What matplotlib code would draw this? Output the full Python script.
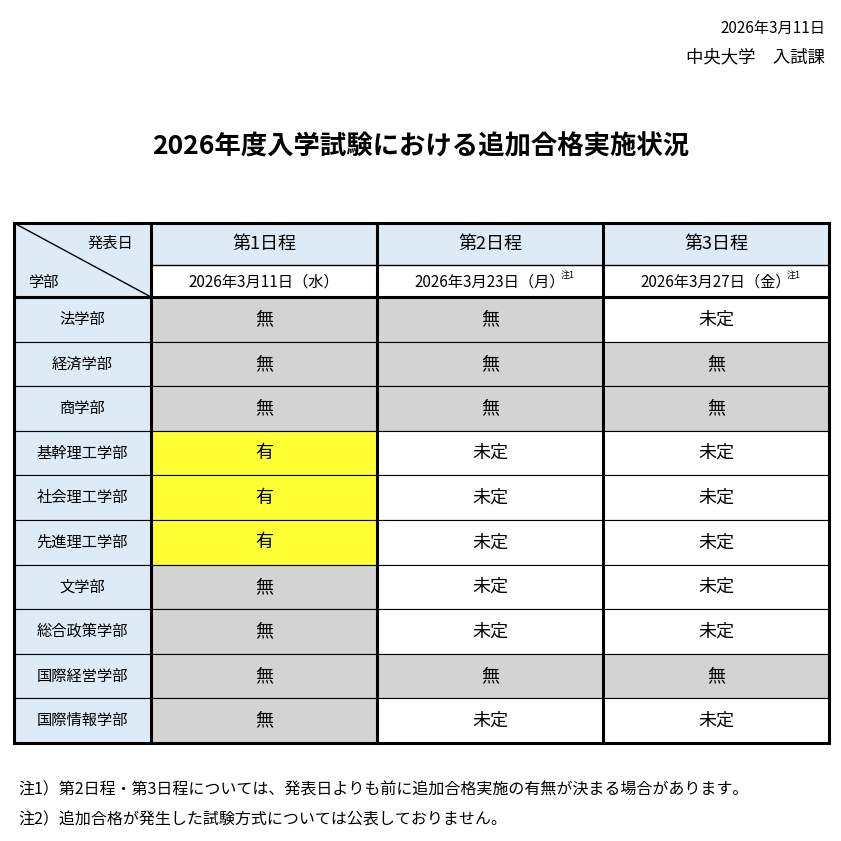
import matplotlib.pyplot as plt
from matplotlib.patches import Rectangle

plt.rcParams['font.family'] = ['Noto Sans CJK JP', 'DejaVu Sans']

faculties = ["法学部", "経済学部", "商学部", "基幹理工学部", "社会理工学部",
             "先進理工学部", "文学部", "総合政策学部", "国際経営学部", "国際情報学部"]
day1 = ["無", "無", "無", "有", "有", "有", "無", "無", "無", "無"]
day2 = ["無", "無", "無", "未定", "未定", "未定", "未定", "未定", "無", "未定"]
day3 = ["未定", "無", "無", "未定", "未定", "未定", "未定", "未定", "無", "未定"]
day_names = ["第1日程", "第2日程", "第3日程"]
day_dates = ["2026年3月11日（水）", "2026年3月23日（月）", "2026年3月27日（金）"]
day_notes = ["", "注1", "注1"]
notes = ["注1）第2日程・第3日程については、発表日よりも前に追加合格実施の有無が決まる場合があります。",
         "注2）追加合格が発生した試験方式については公表しておりません。"]

BLUE = "#DDEBF7"
GRAY = "#D3D3D3"
YELLOW = "#FFFF33"
fill = {"無": GRAY, "有": YELLOW, "未定": "white"}

fig = plt.figure(figsize=(8.41, 8.41), dpi=100)
ax = fig.add_axes([0, 0, 1, 1])
ax.set_xlim(0, 841)
ax.set_ylim(841, 0)
ax.axis("off")

xs = [14, 151, 377, 603, 829]
h1, h2, top = 42, 32, 223
ytop_data = top + h1 + h2
rh = (743 - ytop_data) / len(faculties)

# header
ax.add_patch(Rectangle((xs[0], top), xs[1] - xs[0], h1 + h2, fc=BLUE, ec="none"))
ax.plot([xs[0], xs[1]], [top, ytop_data], color="black", lw=1)
ax.text(133, 243, "発表日", ha="right", va="center", fontsize=11)
ax.text(28, 282, "学部", ha="left", va="center", fontsize=11)
for i in range(3):
    x0, x1 = xs[i + 1], xs[i + 2]
    ax.add_patch(Rectangle((x0, top), x1 - x0, h1, fc=BLUE, ec="none"))
    ax.text((x0 + x1) / 2, top + h1 / 2, day_names[i], ha="center", va="center", fontsize=13)
    ax.plot([x0, x1], [top + h1, top + h1], color="black", lw=1)
    ax.text((x0 + x1) / 2, top + h1 + h2 / 2 + 1, day_dates[i], ha="center", va="center", fontsize=11)
    if day_notes[i]:
        ax.text(x1 - 42, top + h1 + 10, day_notes[i], ha="left", va="center", fontsize=6.5)

# body
cols = [day1, day2, day3]
for r, fac in enumerate(faculties):
    y0 = ytop_data + r * rh
    ax.add_patch(Rectangle((xs[0], y0), xs[1] - xs[0], rh, fc=BLUE, ec="black", lw=0.8))
    ax.text((xs[0] + xs[1]) / 2, y0 + rh / 2, fac, ha="center", va="center", fontsize=11)
    for c in range(3):
        v = cols[c][r]
        ax.add_patch(Rectangle((xs[c + 1], y0), xs[c + 2] - xs[c + 1], rh,
                               fc=fill[v], ec="black", lw=0.8))
        ax.text((xs[c + 1] + xs[c + 2]) / 2, y0 + rh / 2, v, ha="center", va="center", fontsize=13)

# thick lines
for x in xs:
    ax.plot([x, x], [top, 743], color="black", lw=2.2)
for y in [top, ytop_data, 743]:
    ax.plot([xs[0], xs[-1]], [y, y], color="black", lw=2.2)

ax.text(825, 28, "2026年3月11日", ha="right", va="center", fontsize=11)
ax.text(825, 57, "中央大学　入試課", ha="right", va="center", fontsize=12.5)
ax.text(421, 147, "2026年度入学試験における追加合格実施状況", ha="center", va="center",
        fontsize=19, fontweight="bold")
ax.text(18, 790, notes[0], ha="left", va="center", fontsize=11.5)
ax.text(18, 820, notes[1], ha="left", va="center", fontsize=11.5)

fig.savefig("out.png", dpi=100)
